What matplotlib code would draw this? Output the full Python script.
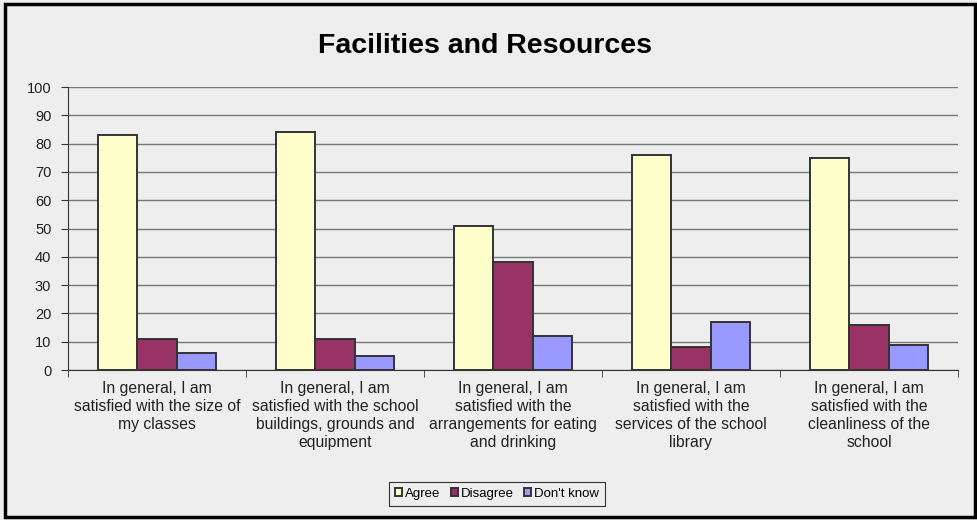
import matplotlib
matplotlib.use("Agg")
import matplotlib.pyplot as plt
import numpy as np
from matplotlib.patches import Rectangle

plt.rcParams['font.family'] = ['Liberation Sans', 'DejaVu Sans']

categories = [
    "In general, I am\nsatisfied with the size of\nmy classes",
    "In general, I am\nsatisfied with the school\nbuildings, grounds and\nequipment",
    "In general, I am\nsatisfied with the\narrangements for eating\nand drinking",
    "In general, I am\nsatisfied with the\nservices of the school\nlibrary",
    "In general, I am\nsatisfied with the\ncleanliness of the\nschool",
]
series_names = ["Agree", "Disagree", "Don't know"]
agree = [83, 84, 51, 76, 75]
disagree = [11, 11, 38, 8, 16]
dont_know = [6, 5, 12, 17, 9]
colors = ["#FFFFCC", "#993366", "#9999FF"]
yticks = list(range(0, 101, 10))

fig = plt.figure(figsize=(9.78, 5.2), dpi=100, facecolor="#EEEEEE")
ax = fig.add_axes([68/978, 1-370/520, 890/978, 283/520])
ax.set_facecolor("#EEEEEE")

x = np.arange(len(categories))
w = 1/4.5
for i, (vals, c, name) in enumerate(zip([agree, disagree, dont_know], colors, series_names)):
    ax.bar(x + (i-1)*w, vals, width=w, color=c, edgecolor="#333333", linewidth=1.4,
           label=name, zorder=3)

ax.set_xlim(-0.5, len(categories)-0.5)
ax.set_ylim(0, 100)
ax.set_yticks(yticks)
ax.set_yticklabels([str(t) for t in yticks], fontsize=10.5, color="#222222")
ax.yaxis.grid(True, color="#777777", linewidth=1.0, zorder=0)
ax.set_axisbelow(True)

ax.set_xticks(x)
ax.set_xticklabels(categories, fontsize=11.3, linespacing=1.25, color="#222222")
ax.tick_params(axis='x', length=0, pad=8)
ax.set_xticks(np.arange(-0.5, len(categories), 1), minor=True)
ax.tick_params(axis='x', which='minor', length=5, color="#333333", direction='out')
ax.tick_params(axis='y', length=5, color="#333333", direction='out', pad=7)

for s in ["top", "right"]:
    ax.spines[s].set_visible(False)
ax.spines["left"].set_color("#333333")
ax.spines["bottom"].set_color("#333333")

fig.text(485/978, 1-46/520, "Facilities and Resources", ha="center", va="center",
         fontsize=20.5, fontweight="bold")

leg = fig.legend(loc="center", bbox_to_anchor=(497/978, 1-494/520), ncol=3,
                 fontsize=9.5, frameon=True, fancybox=False, edgecolor="#000000",
                 handlelength=0.55, handleheight=0.55, handletextpad=0.2,
                 columnspacing=0.8, borderpad=0.45)
leg.get_frame().set_facecolor("#EEEEEE")
leg.get_frame().set_linewidth(0.8)

fig.patches.append(Rectangle((5/978, 3/520), 970/978, 513/520, transform=fig.transFigure,
                             fill=False, edgecolor="#000000", linewidth=2.5))

fig.savefig("out.png", dpi=100, facecolor=fig.get_facecolor())
